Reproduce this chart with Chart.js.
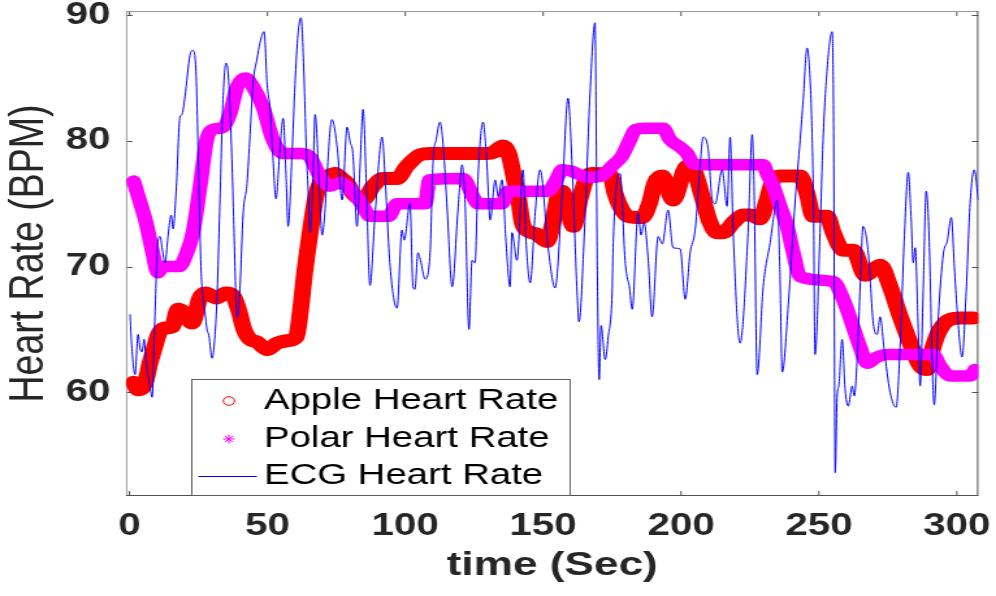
<!DOCTYPE html>
<html>
<head>
<meta charset="utf-8">
<script src="https://cdn.jsdelivr.net/npm/chart.js@4.4.1/dist/chart.umd.min.js"></script>
<style>
    html, body { margin: 0; padding: 0; background: #fff; overflow: hidden; }
    /* the source figure is stretched sideways, so the whole chart is too */
    #wrap { width: 766px; height: 596px; transform: scaleX(1.30026); transform-origin: 0 0; }
</style>
</head>
<body>
<div id="wrap"><canvas id="hrChart" width="766" height="596"></canvas></div>
<script>
const xTicks = [0, 50, 100, 150, 200, 250, 300];
const yTicks = [60, 70, 80, 90];

// Apple watch (red circles)
const appleT = [1.5, 3, 4.5, 6, 7.4, 9, 10.5, 12.5, 15.5, 17.6, 19.5, 22.7, 25.5, 27.5, 31.5, 35, 37.5, 39.5, 41.5, 43.7,
    46.2, 49.9, 53.5, 57.1, 60.5, 62, 63.5, 65.5, 67.5, 69.5, 72, 74.5, 77, 79, 81.1, 84.7, 88.3, 91.9, 97, 100.6,
    105.4, 109, 120, 129.6, 132, 135.4, 137.5, 139.5, 141, 142.4, 144.6, 147.5, 151.4, 153.5, 155.4, 156.9, 158.5, 160.9, 163.5, 166,
    167.8, 174.3, 176.1, 178.6, 180.8, 185.9, 188.5, 190.6, 193.2, 197.1, 202.2, 204.4, 208, 210.5, 213.1, 215.3, 218.9, 222.5, 225.1, 228.7,
    231.2, 233.4, 235.9, 243.2, 245.7, 247.9, 253, 255.2, 258.8, 262.4, 266.8, 272.2, 275.8, 279.5, 283.1, 286.7, 289.3, 291.4, 293.9, 297.6,
    301.2, 306];
const appleHR = [60.8, 60.2, 60.3, 61.0, 62.3, 63.5, 64.6, 65.1, 65.2, 66.6, 66.4, 65.5, 67.5, 67.9, 67.5, 67.9, 67.7, 66.6, 65.0, 64.2,
    64.0, 63.4, 63.9, 64.1, 64.4, 66.5, 69.5, 72.7, 75.5, 76.8, 77.2, 77.4, 77.0, 76.6, 75.8, 75.3, 76.4, 77.0, 77.0, 78.0,
    78.9, 79.0, 79.0, 79.0, 79.1, 79.6, 79.0, 77.0, 75.5, 73.5, 72.8, 72.6, 72.0, 73.5, 75.6, 76.0, 75.0, 73.2, 75.5, 77.2,
    77.4, 77.3, 75.8, 74.5, 74.0, 73.9, 75.0, 76.7, 77.2, 75.3, 78.0, 77.8, 75.3, 73.5, 72.7, 72.7, 73.5, 74.1, 74.1, 73.8,
    75.3, 76.9, 77.2, 77.2, 75.8, 74.0, 74.0, 72.7, 71.3, 71.3, 69.3, 70.1, 68.4, 66.0, 63.9, 62.1, 61.8, 63.6, 65.0, 65.8,
    65.9, 65.9];

// Polar strap (magenta stars)
const polarT = [1.5, 3.6, 6, 8.4, 10.3, 12, 18, 20.8, 23, 25.6, 28, 30, 34, 36.5, 39, 42, 44.8, 48.4, 52, 55.7,
    62, 65.5, 69, 72.7, 76.3, 81, 84.7, 87.2, 94, 97, 107.2, 108.8, 121, 124.5, 126.4, 135.1, 137.3, 151.8, 154.5, 156.9,
    160, 166.3, 171, 175, 178.6, 181.5, 183.4, 187, 193.5, 196, 199.7, 202.2, 204.4, 206.9, 229.8, 231.2, 233.4, 235.9, 238.5, 240.7,
    243.2, 255.2, 258.8, 262.4, 264.9, 267.5, 271.1, 274.7, 291.4, 293.9, 297.6, 305, 306.5];
const polarHR = [76.8, 75.3, 73.5, 71.1, 69.5, 70.0, 70.0, 71.1, 72.7, 76.4, 80.1, 80.9, 81.1, 82.2, 84.3, 85.0, 84.3, 82.7, 80.1, 79.0,
    79.0, 78.7, 77.2, 76.4, 76.7, 75.9, 74.8, 74.0, 74.0, 75.0, 75.0, 76.9, 77.0, 75.6, 75.0, 75.0, 76.0, 76.0, 76.8, 77.7,
    77.6, 77.1, 77.2, 78.0, 78.8, 80.1, 80.9, 81.0, 81.0, 80.1, 79.5, 79.0, 78.2, 78.1, 78.1, 77.4, 76.4, 74.8, 73.2, 71.1,
    69.2, 68.8, 67.4, 65.2, 63.6, 62.3, 62.8, 63.0, 63.0, 62.1, 61.3, 61.3, 61.8];

// ECG reference (thin blue line), read peak by peak
const ecgT = [0.2, 0.7, 2, 3.1, 3.8, 4.5, 5.3, 6, 7.4, 8.2, 9.2, 10.3, 11.1, 11.8, 12.9, 14, 15.1, 15.8, 16.9, 18.3,
    19, 20.1, 21.9, 23, 24.1, 25.2, 25.9, 26.7, 27.4, 28.1, 28.8, 29.9, 30.6, 31.7, 32.8, 33.9, 35, 35.9, 37.2, 37.9,
    39, 40.1, 41.2, 42.6, 43.7, 44.8, 46.2, 47.3, 48.8, 49.9, 51, 52, 53.1, 54.6, 55.7, 56.8, 57.5, 58.9, 60, 61.1,
    62.2, 63.3, 64, 64.7, 65.5, 66.5, 67.3, 68.7, 69.8, 73.4, 75.3, 77.1, 78.9, 80, 81, 82.5, 83.6, 84.7, 85.8, 87.2,
    89, 91.6, 92.7, 94.5, 97, 98.8, 99.6, 101.7, 102.8, 103.5, 104.6, 105.5, 107.2, 109, 110.1, 111.2, 112.6, 113.8, 115.2, 117,
    119.1, 120.6, 121.7, 123.1, 124.2, 125.3, 126.4, 128.2, 129.5, 130.8, 132.6, 133.7, 135.1, 136.5, 138, 138.7, 140.5, 142.7, 143.8, 145.3,
    147.1, 148.9, 151.8, 154.3, 156.9, 159, 160.5, 162.3, 163, 165, 167, 168.8, 169.6, 170.3, 171, 172.5, 173.6, 175, 175.4, 177.9,
    179.7, 180.4, 181.2, 182.3, 184.4, 185.5, 186.6, 188.1, 189.5, 191.7, 193.2, 195.3, 197.1, 199.7, 201.5, 203.3, 205.1, 206.9, 208, 209.8,
    211.3, 212.4, 214.9, 216.7, 217.8, 218.9, 221.4, 224.3, 225.8, 226.5, 227.6, 229.8, 232.3, 234.9, 235.8, 236.7, 238.9, 241.4, 243.2, 244.3,
    245.7, 247, 247.5, 248, 248.6, 250.4, 251.5, 253, 254.8, 255.3, 255.9, 256.6, 257.2, 258.4, 259.5, 260.6, 262.1, 262.8, 263.9, 265,
    266, 267.9, 269.7, 271.1, 272.2, 273.6, 275.8, 278, 279.5, 280.9, 282.4, 283.4, 284.2, 284.9, 286, 286.7, 287.8, 288.9, 290, 291.1,
    291.8, 293.3, 295.1, 296.5, 298, 299.1, 300.1, 301.9, 303.4, 304.8, 306.3, 307.8];
const ecgHR = [66.2, 64.0, 61.4, 64.6, 63.5, 63.2, 64.2, 62.5, 60.5, 59.6, 66, 72, 72.4, 71.5, 70.3, 72.5, 74.1, 73.0, 76, 81.9,
    82.1, 83.5, 86.8, 87.2, 85.5, 76, 70, 67.4, 66.3, 65.0, 64.5, 62.7, 63.5, 67.4, 75.3, 83.3, 86.2, 85, 78, 72.7,
    65.9, 68.5, 74.2, 76.6, 80.5, 84.6, 86.5, 87.8, 88.7, 84.5, 82.5, 78.7, 75.4, 79.5, 81.8, 77, 73.2, 78.8, 84.5, 88.5,
    89.8, 85, 80, 76.4, 72.7, 77, 82.1, 77, 72.5, 81.7, 79.5, 75.3, 81.1, 79.9, 79.0, 73.2, 78, 82.5, 77, 68.5,
    74, 80.3, 77, 70, 66.7, 72.9, 72.1, 75.0, 68.4, 68.2, 71.1, 70.5, 69.0, 71.1, 78.5, 80.1, 81.5, 79.5, 74.5, 68.4,
    74.5, 78.1, 75, 65.0, 70.5, 70.3, 77.2, 81.5, 78.5, 73.7, 76.9, 75.6, 76.9, 72, 68.4, 72.7, 70.5, 77.7, 72, 68.7,
    74.3, 77.7, 71.5, 68.3, 75.8, 83.4, 78, 67.9, 65.6, 73, 83.8, 89.4, 70.5, 61.0, 65.3, 62.6, 64.4, 67.9, 71.9, 77.4,
    70.5, 69.2, 68.5, 66.6, 74.3, 72.5, 73.5, 70.5, 66.0, 72.4, 71.8, 74.5, 71.5, 71.4, 67.4, 71.1, 72.9, 78.0, 80.3, 79.4,
    75.3, 75.0, 77.7, 74.8, 80.3, 72.7, 63.9, 72.7, 80.5, 76, 61.4, 68.4, 71.9, 75.3, 70, 61.6, 67, 75.3, 80.1, 83.3,
    87.4, 84, 80.6, 75.3, 63.0, 72.7, 80.1, 85.8, 88.7, 82, 53.6, 59.7, 60.5, 64.2, 60.2, 58.9, 60.5, 59.7, 62.8, 68.7,
    73.2, 71.1, 65.5, 64.6, 66, 63.5, 60, 58.8, 64, 72, 77.5, 74, 70.3, 71.5, 65, 60.5, 68, 76.0, 72, 62,
    59.0, 66, 71, 72, 73.9, 70, 66.6, 62.8, 68, 75, 77.7, 75.3];

const labels = ["Apple Heart Rate", "Polar Heart Rate", "ECG Heart Rate"];

function pairs(t, v) {
    return t.map((x, i) => ({ x: x, y: v[i] }));
}

const tickFont = { family: "Liberation Sans", weight: "bold", size: 31 };

// MATLAB style box with inward ticks
const axesBox = {
    id: "axesBox",
    beforeDatasetsDraw(chart) {
        const { ctx, chartArea: a, scales } = chart;
        const line = (x1, y1, x2, y2) => {
            ctx.beginPath();
            ctx.moveTo(x1, y1);
            ctx.lineTo(x2, y2);
            ctx.stroke();
        };
        ctx.save();
        ctx.lineWidth = 1;
        ctx.strokeStyle = "#505050";
        xTicks.forEach((v) => {
            const px = scales.x.getPixelForValue(v);
            line(px, a.top, px, a.top + 5);
            line(px, a.bottom, px, a.bottom - 5);
        });
        yTicks.forEach((v) => {
            const py = Math.round(scales.y.getPixelForValue(v)) + 0.5;
            line(a.left, py, a.left + 5, py);
            line(a.right, py, a.right - 5, py);
        });
        ctx.strokeStyle = "#9a9a9a";
        line(a.left, a.top + 0.5, a.right, a.top + 0.5);
        line(a.left + 0.5, a.top, a.left + 0.5, a.bottom);
        ctx.strokeStyle = "#505050";
        line(a.right - 0.5, a.top, a.right - 0.5, a.bottom);
        line(a.left, a.bottom - 0.5, a.right, a.bottom - 0.5);
        ctx.restore();
    },
};

// legend box in the lower left corner of the axes
const legendBox = {
    id: "legendBox",
    afterDatasetsDraw(chart) {
        const ctx = chart.ctx;
        const rows = [401, 439, 476];
        const mx = 176;
        ctx.save();
        ctx.fillStyle = "#fff";
        ctx.fillRect(147, 379, 291.5, 117);
        ctx.strokeStyle = "#606060";
        ctx.lineWidth = 1;
        ctx.strokeRect(147.5, 379.5, 291, 116);

        // circle
        ctx.strokeStyle = "#ff0000";
        ctx.beginPath();
        ctx.arc(mx, rows[0], 4.3, 0, Math.PI * 2);
        ctx.stroke();
        // asterisk
        ctx.strokeStyle = "#ff00ff";
        ctx.beginPath();
        for (let k = 0; k < 4; k++) {
            const ang = (k * Math.PI) / 4;
            ctx.moveTo(mx - 4.5 * Math.cos(ang), rows[1] - 4.5 * Math.sin(ang));
            ctx.lineTo(mx + 4.5 * Math.cos(ang), rows[1] + 4.5 * Math.sin(ang));
        }
        ctx.stroke();
        // line
        ctx.strokeStyle = "#0000ff";
        ctx.beginPath();
        ctx.moveTo(152.5, rows[2] + 0.5);
        ctx.lineTo(197.5, rows[2] + 0.5);
        ctx.stroke();

        ctx.fillStyle = "#000";
        ctx.font = '29.5px "Liberation Sans"';
        ctx.textBaseline = "middle";
        ctx.textAlign = "left";
        chart.data.datasets.forEach((ds, i) => ctx.fillText(ds.label, 203, rows[i]));
        ctx.restore();
    },
};

new Chart(document.getElementById("hrChart"), {
    type: "line",
    data: {
        datasets: [
            {
                label: labels[0],
                data: pairs(appleT, appleHR),
                borderColor: "#ff0000",
                borderWidth: 13,
                borderCapStyle: "round",
                borderJoinStyle: "round",
                cubicInterpolationMode: "monotone",
                pointRadius: 0,
                order: 3,
            },
            {
                label: labels[1],
                data: pairs(polarT, polarHR),
                borderColor: "#ff00ff",
                borderWidth: 11.5,
                borderCapStyle: "round",
                borderJoinStyle: "round",
                cubicInterpolationMode: "monotone",
                pointRadius: 0,
                order: 2,
            },
            {
                label: labels[2],
                data: pairs(ecgT, ecgHR),
                borderColor: "#0000ff",
                borderWidth: 1,
                cubicInterpolationMode: "monotone",
                pointRadius: 0,
                order: 1,
            },
        ],
    },
    options: {
        responsive: false,
        animation: false,
        devicePixelRatio: 1,
        layout: { padding: { top: 11, right: 13.6, left: 0, bottom: 0 } },
        plugins: {
            legend: { display: false },
            tooltip: { enabled: false },
        },
        scales: {
            x: {
                type: "linear",
                min: -1.27,
                max: 307.8,
                afterBuildTicks: (s) => {
                    s.ticks = xTicks.map((v) => ({ value: v }));
                },
                afterFit: (s) => {
                    s.height = 100;
                    s.paddingLeft = 0;
                    s.paddingRight = 0;
                },
                grid: { display: false, drawTicks: false },
                border: { display: false },
                ticks: { font: tickFont, color: "#262626", padding: 12, maxRotation: 0, autoSkip: false },
                title: {
                    display: true,
                    text: "time (Sec)",
                    color: "#262626",
                    font: { family: "Liberation Sans", weight: "bold", size: 34 },
                    padding: { top: 0, bottom: 10 },
                },
            },
            y: {
                type: "linear",
                min: 51.74,
                max: 90.34,
                afterBuildTicks: (s) => {
                    s.ticks = yTicks.map((v) => ({ value: v }));
                },
                afterFit: (s) => {
                    s.width = 96.9;
                    s.paddingTop = 0;
                    s.paddingBottom = 0;
                },
                grid: { display: false, drawTicks: false },
                border: { display: false },
                ticks: { font: tickFont, color: "#262626", padding: 12, autoSkip: false },
                title: {
                    display: true,
                    text: "Heart Rate (BPM)",
                    color: "#262626",
                    font: { family: "Liberation Sans", size: 37.5 },
                    padding: 0,
                },
            },
        },
    },
    plugins: [axesBox, legendBox],
});
</script>
</body>
</html>
